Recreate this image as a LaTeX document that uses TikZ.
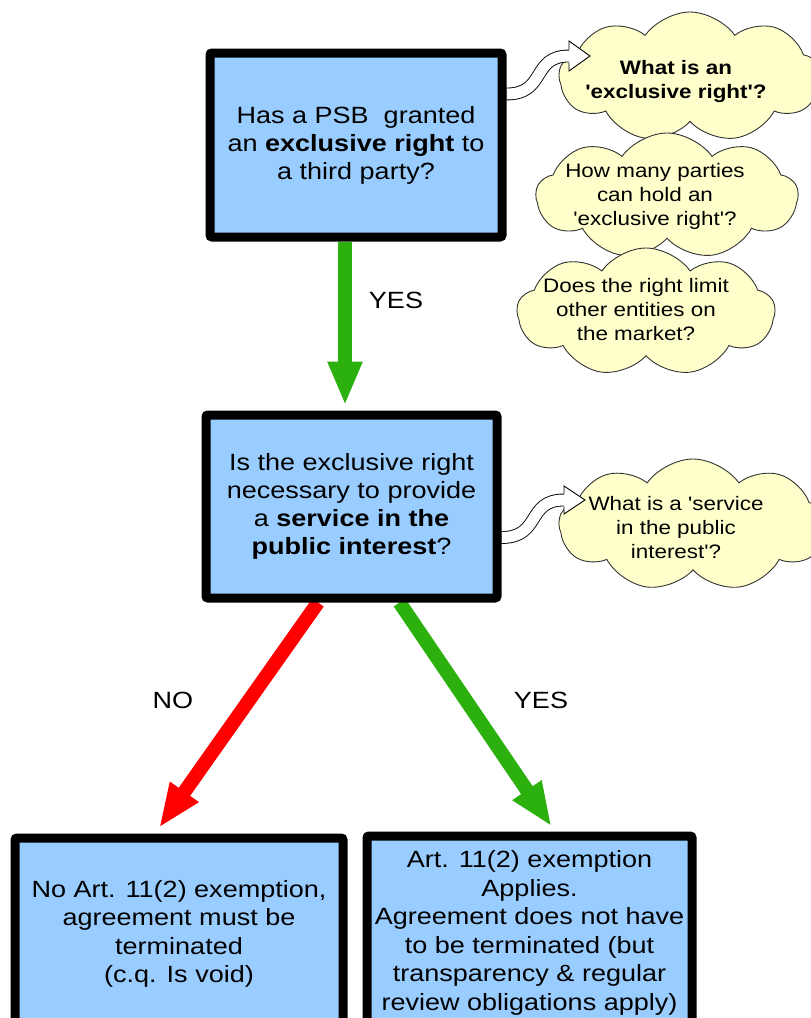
\documentclass[tikz,border=0pt]{standalone}
\usepackage{fontspec}
\setmainfont{Liberation Sans}[FakeStretch=1.15, Ligatures=TeXOff]
\usetikzlibrary{arrows.meta,shapes.symbols,calc}
\pgfdeclarelayer{background}
\pgfsetlayers{background,main}
\definecolor{boxblue}{RGB}{153,204,255}
\definecolor{cloudyellow}{RGB}{255,255,204}
\definecolor{yesgreen}{RGB}{43,176,14}
\definecolor{nored}{RGB}{255,0,0}
\begin{document}
\begin{tikzpicture}[x=1pt,y=-1pt,
  qbox/.style={draw=black, line width=9pt, fill=boxblue, rounded corners=2pt, align=center, inner sep=0pt, font=\fontsize{23.5}{28}\selectfont},
  bigarrow/.style={line width=14pt, -{Triangle[width=32pt,length=44pt]}},
  thought/.style={cloud, cloud puffs=9, cloud puff arc=110, cloud ignores aspect, draw=black!80, line width=0.9pt, fill=cloudyellow, inner sep=0pt},
  thoughttext/.style={align=center, font=\fontsize{19.5}{24}\selectfont, inner sep=0pt},
  thoughtbold/.style={align=center, font=\fontsize{19.5}{24}\selectfont\bfseries, inner sep=0pt},
  answer/.style={font=\fontsize{23.5}{28}\selectfont, inner sep=0pt},
  hollow/.style={draw=black, double=white, double distance=11pt, line width=0.9pt},
  hollowhead/.style={draw=black, fill=white, line width=0.9pt, line join=miter},
]
\useasboundingbox (0,0) rectangle (811,1018);

% question / result boxes
\node[qbox, minimum width=292pt, minimum height=184pt] (q1) at (356,145)
  {Has a PSB\ \ granted\\an \textbf{exclusive right} to\\a third party?};
\node[qbox, minimum width=291pt, minimum height=183pt] (q2) at (351.5,506.5)
  {Is the exclusive right\\necessary to provide\\a \textbf{service in the}\\\textbf{public interest}?};
\node[qbox, minimum width=328pt, minimum height=192pt, font=\fontsize{23.5}{28.6}\selectfont] (q3) at (179,934)
  {No Art. 11(2) exemption,\\agreement must be\\terminated\\(c.q. Is void)};
\node[qbox, minimum width=325pt, minimum height=194pt, font=\fontsize{23.5}{28.6}\selectfont] (q4) at (529.5,933)
  {Art. 11(2) exemption\\Applies.\\Agreement does not have\\to be terminated (but\\transparency \& regular\\review obligations apply)};

% answer labels
\node[answer] (y1) at (396,300) {YES};
\node[answer] (n1) at (173,700) {NO};
\node[answer] (y2) at (541,700) {YES};

\begin{pgfonlayer}{background}
\fill[white] (0,0) rectangle (811,1018);
% clouds
\node[thought, minimum width=262pt, minimum height=130pt] (c1) at (690,77) {};
\node[thought, minimum width=262pt, minimum height=126pt] (c2) at (667,196) {};
\node[thought, minimum width=258pt, minimum height=128pt] (c3) at (646,312) {};
\node[thought, minimum width=268pt, minimum height=132pt, shape border rotate=15] (c4) at (693,525) {};
% hollow arrows
\coordinate (h1end) at (569,56);
\coordinate (h2end) at (564,500);
\draw[hollow] ($(q1.east)+(0,-51)$) .. controls +(40,0) and +(-38,0) .. (h1end);
\draw[hollowhead] (h1end) ++(0,-6.5) -- ++(0,-8.5) -- ++(21,15) -- ++(-21,15) -- ++(0,-8.5);
\draw[hollow] ($(q2.east)+(0,31)$) .. controls +(40,0) and +(-38,0) .. (h2end);
\draw[hollowhead] (h2end) ++(0,-6.5) -- ++(0,-7.5) -- ++(21,14) -- ++(-21,14) -- ++(0,-7.5);
% big arrows
\draw[bigarrow, yesgreen, shorten >=5pt] ([xshift=-11pt]q1.south) -- ([xshift=-6.5pt]q2.north);
\draw[bigarrow, nored, shorten >=7pt] ([xshift=-33.5pt]q2.south) -- ([xshift=-24pt]q3.north);
\draw[bigarrow, yesgreen, shorten >=6pt] ([xshift=48pt]q2.south) -- ([xshift=25.5pt]q4.north);
\end{pgfonlayer}

% cloud texts
\node[thoughtbold] (t1) at (676,81) {What is an\\'exclusive right'?};
\node[thoughttext] (t2) at (655,196) {How many parties\\can hold an\\'exclusive right'?};
\node[thoughttext] (t3) at (636,310) {Does the right limit\\other entities on\\the market?};
\node[thoughttext] (t4) at (676,528) {What is a 'service\\in the public\\interest'?};
\end{tikzpicture}
\end{document}
